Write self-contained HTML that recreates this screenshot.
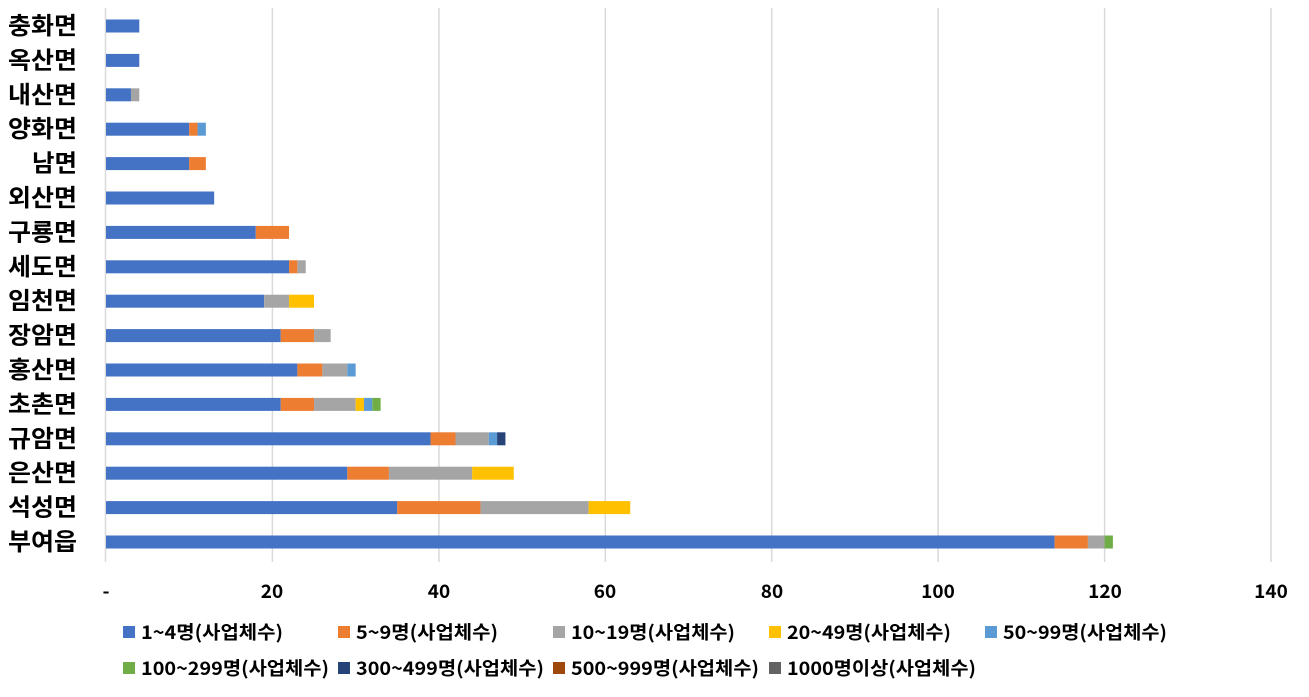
<!DOCTYPE html>
<html><head><meta charset="utf-8"><style>
body{margin:0;background:#fff;width:1309px;height:692px;overflow:hidden;font-family:"Noto Sans CJK KR",sans-serif;}
svg text{font-family:"Noto Sans CJK KR","Liberation Sans",sans-serif;}
</style></head><body>
<svg width="1309" height="692" xmlns="http://www.w3.org/2000/svg" id="s">
<g stroke="#d9d9d9" stroke-width="1.5">
<line x1="272.4" y1="8" x2="272.4" y2="562"/><line x1="438.9" y1="8" x2="438.9" y2="562"/><line x1="605.3" y1="8" x2="605.3" y2="562"/><line x1="771.7" y1="8" x2="771.7" y2="562"/><line x1="938.1" y1="8" x2="938.1" y2="562"/><line x1="1104.6" y1="8" x2="1104.6" y2="562"/><line x1="1271" y1="8" x2="1271" y2="562"/><line x1="105.5" y1="8" x2="105.5" y2="562"/>
</g>
<g font-size="19" fill="#000" text-anchor="middle" font-weight="bold">
<text x="106" y="598">-</text><text x="272" y="598">20</text><text x="439" y="598">40</text><text x="605" y="598">60</text><text x="772" y="598">80</text><text x="938" y="598">100</text><text x="1105" y="598">120</text><text x="1271" y="598">140</text>
</g>
<g id="bars"></g>
<g id="legend" font-size="18.5" font-weight="bold" fill="#000"></g>
</svg>
<script>
var C=["#4472c4","#ed7d31","#a5a5a5","#ffc000","#5b9bd5","#70ad47","#264478","#9e480e","#636363"];
var names=["충화면","옥산면","내산면","양화면","남면","외산면","구룡면","세도면","임천면","장암면","홍산면","초촌면","규암면","은산면","석성면","부여읍"];
var d=[[4],[4],[3,0,1],[10,1,0,0,1],[10,2],[13],[18,4],[22,1,1],[19,0,3,3],[21,4,2],[23,3,3,0,1],[21,4,5,1,1,1],[39,3,4,0,1,0,1],[29,5,10,5],[35,10,13,5],[114,4,2,0,0,1]];
var ns="http://www.w3.org/2000/svg",g=document.getElementById("bars"),s=document.getElementById("s");
function el(t,a,p,txt){var e=document.createElementNS(ns,t);for(var k in a)e.setAttribute(k,a[k]);if(txt)e.textContent=txt;p.appendChild(e);return e;}
var u=8.3214;
for(var i=0;i<16;i++){var cy=26+i*34.4;var x=106;
for(var j=0;j<d[i].length;j++){var w=d[i][j]*u;if(w>0)el("rect",{x:x,y:cy-6.5,width:w,height:13,fill:C[j]},g);x+=w;}
var n=names[i].length;
el("text",{x:77,y:cy+8,"text-anchor":"end","font-size":"24","font-weight":"bold",fill:"#000",textLength:n==3?69:45,lengthAdjust:"spacingAndGlyphs"},g,names[i]);}
var L=document.getElementById("legend");
var lab=["1~4명(사업체수)","5~9명(사업체수)","10~19명(사업체수)","20~49명(사업체수)","50~99명(사업체수)","100~299명(사업체수)","300~499명(사업체수)","500~999명(사업체수)","1000명이상(사업체수)"];
var tl=[142,142,164,164,164,188,188,188,189];
var xs=[123,338,553,769,985];
for(var k=0;k<9;k++){var r=k<5?0:1,c=k<5?k:k-5;var y=r?668:632;
el("rect",{x:xs[c],y:y-6,width:12,height:12,fill:C[k]},L);
el("text",{x:xs[c]+18,y:y+7,textLength:tl[k],lengthAdjust:"spacingAndGlyphs"},L,lab[k]);}
</script>
</body></html>
